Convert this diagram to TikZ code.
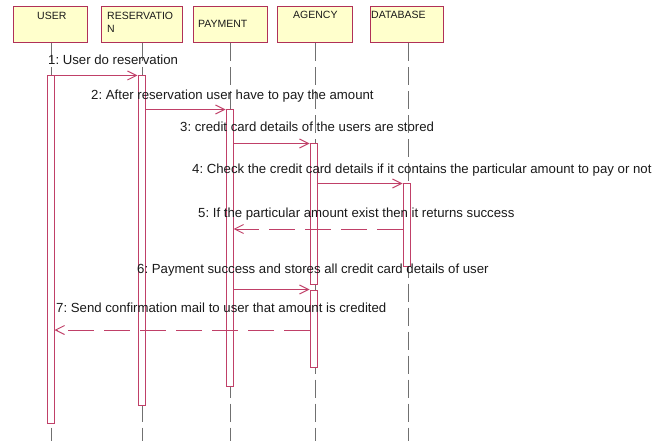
\documentclass[tikz,border=0pt]{standalone}
\usepackage{fontspec}
\setmainfont{Liberation Sans}
\usetikzlibrary{arrows.meta}
\definecolor{hdrfill}{HTML}{FFFFCC}
\definecolor{hdredge}{HTML}{B03058}
\definecolor{actedge}{HTML}{C04068}
\definecolor{msgline}{HTML}{C04068}
\definecolor{lifegray}{HTML}{707070}
\definecolor{txt}{HTML}{1A1A1A}
\frenchspacing
\tikzset{
  hdr/.style={draw=hdredge, fill=hdrfill, line width=1pt, inner sep=0pt, minimum height=36pt},
  hdrtext/.style={font=\fontsize{10.5}{12}\selectfont, text=txt, inner sep=0pt, anchor=base west},
  lifeline/.style={draw=lifegray, line width=0.9pt, dash pattern=on 18pt off 6pt},
  actbar/.style={draw=actedge, fill=white, line width=1pt, inner sep=0pt, minimum width=7pt},
  msg/.style={draw=msgline, line width=1pt, -{Straight Barb[length=9pt,width=9pt,line width=1pt]}},
  reply/.style={msg, dash pattern=on 26pt off 10pt},
  msgtext/.style={font=\fontsize{13.2}{15}\selectfont, text=txt, inner sep=0pt, anchor=base west}
}
\begin{document}
\begin{tikzpicture}[x=1pt,y=-1pt]
\useasboundingbox (0,0) rectangle (667,441);

% participant heads
\node[hdr, minimum width=74pt] (huser) at (50,25) {};
\node[hdr, minimum width=81pt] (hres)  at (141.5,25) {};
\node[hdr, minimum width=74pt] (hpay)  at (230,25) {};
\node[hdr, minimum width=75pt] (hag)   at (314.5,25) {};
\node[hdr, minimum width=73pt] (hdb)   at (406.5,25) {};

\node[hdrtext] (tuser) at (37,20) {USER};
\node[hdrtext] (tres1) at (107,20) {RESERVATIO};
\node[hdrtext] (tres2) at (107,33) {N};
\node[hdrtext] (tpay)  at (198,28) {PAYMENT};
\node[hdrtext] (tag)   at (293,19) {AGENCY};
\node[hdrtext] (tdb)   at (371,19) {DATABASE};

% lifelines
\coordinate (euser) at (51,441);
\coordinate (eres)  at (142,441);
\coordinate (epay)  at (230,441);
\coordinate (eag)   at (315,441);
\coordinate (edb)   at (408,441);
\draw[lifeline] (huser.south -| euser) -- (euser);
\draw[lifeline] (hres.south -| eres) -- (eres);
\draw[lifeline] (hpay.south -| epay) -- (epay);
\draw[lifeline] (hag.south -| eag) -- (eag);
\draw[lifeline] (hdb.south -| edb) -- (edb);

% activation bars
\node[actbar, minimum height=347pt] (auser) at (50.5,249.5) {};
\node[actbar, minimum height=329pt] (ares)  at (141.5,240.5) {};
\node[actbar, minimum height=276pt] (apay)  at (229.5,248) {};
\node[actbar, minimum height=140pt] (aag1)  at (313.5,214) {};
\node[actbar, minimum height=77pt]  (aag2)  at (313.5,328.5) {};
\node[actbar, minimum height=82pt]  (adb)   at (406.5,225) {};

% messages
\coordinate (y5) at (0,229);
\coordinate (y7) at (0,330);
\draw[msg] (auser.north east) -- (ares.north west);
\draw[msg] (ares.east |- apay.north) -- (apay.north west);
\draw[msg] (apay.east |- aag1.north) -- (aag1.north west);
\draw[msg] (aag1.east |- adb.north) -- (adb.north west);
\draw[reply] (adb.west |- y5) -- (apay.east |- y5);
\draw[msg] (apay.east |- aag2.north) -- (aag2.north west);
\draw[reply] (aag2.west |- y7) -- (auser.east |- y7);

% message labels
\node[msgtext] (l1) at (48,65) {1: User do reservation};
\node[msgtext] (l2) at (91,100) {2: After reservation user have to pay the amount};
\node[msgtext] (l3) at (180,132) {3: credit card details of the users are stored};
\node[msgtext] (l4) at (192,174) {4: Check the credit card details if it contains the particular amount to pay or not};
\node[msgtext] (l5) at (198,217) {5: If the particular amount exist then it returns success};
\node[msgtext] (l6) at (137,273) {6: Payment success and stores all credit card details of user};
\node[msgtext] (l7) at (56,312) {7: Send confirmation mail to user that amount is credited};
\end{tikzpicture}
\end{document}
